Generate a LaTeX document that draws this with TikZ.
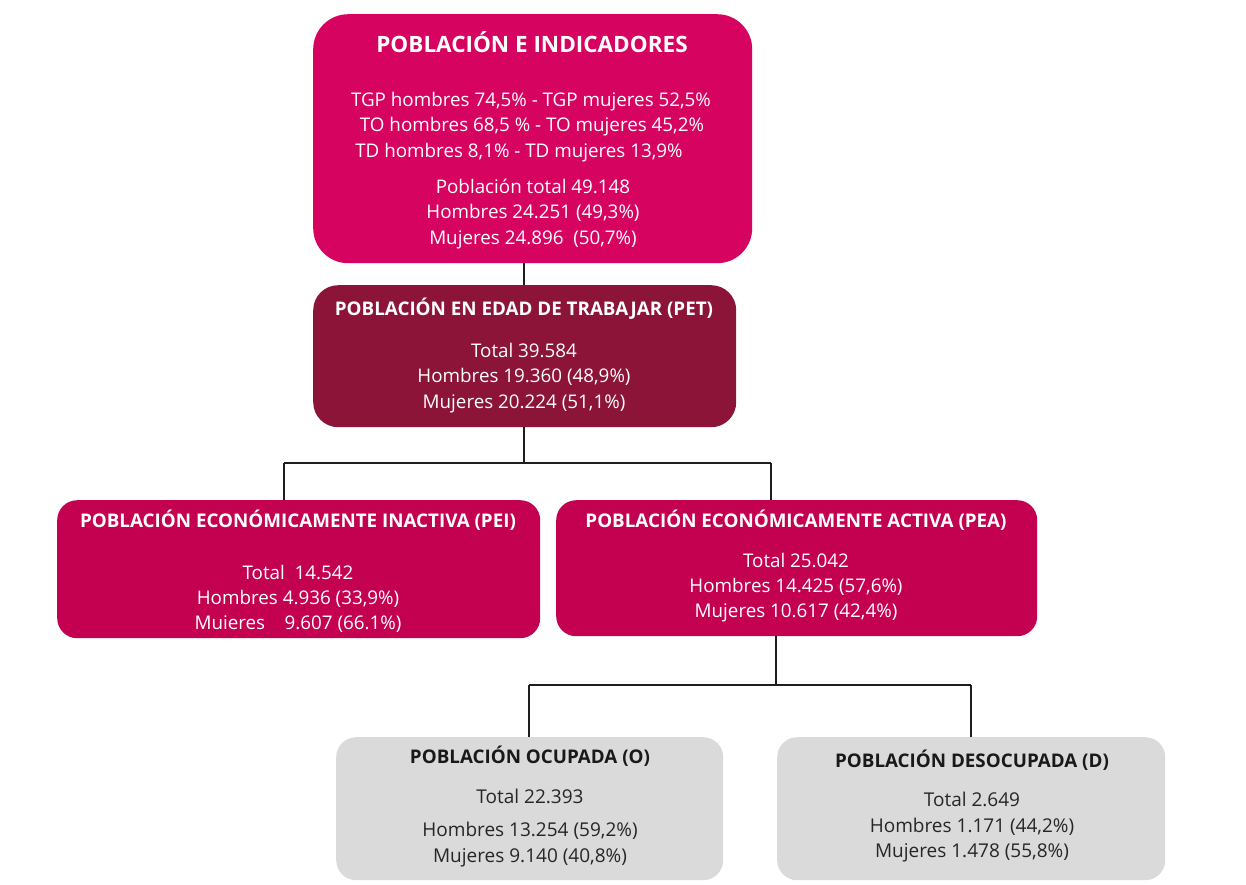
\documentclass[tikz,border=0pt]{standalone}
\usepackage{fontspec}
\setmainfont{Open Sans}
\definecolor{topc}{RGB}{214,4,96}
\definecolor{petc}{RGB}{141,20,57}
\definecolor{midc}{RGB}{196,0,80}
\definecolor{grayc}{RGB}{218,218,218}
\definecolor{linec}{RGB}{30,30,30}
\begin{document}
\begin{tikzpicture}[x=1pt,y=-1pt,
  box/.style={draw=none,rounded corners=#1,inner sep=0pt,anchor=north west},
  wt/.style={text=white,inner sep=0pt,anchor=base,font=\fontsize{18.8}{22}\selectfont},
  wtitle/.style={text=white,inner sep=0pt,anchor=base,font=\fontsize{18.8}{22}\selectfont\bfseries},
  dt/.style={text=black!85,inner sep=0pt,anchor=base,font=\fontsize{19}{22}\selectfont},
  dtitle/.style={text=black!90,inner sep=0pt,anchor=base,font=\fontsize{18.8}{22}\selectfont\bfseries},
  conn/.style={draw=linec,line width=1.6pt}]
\useasboundingbox (0,0) rectangle (1246,884);
% boxes
\node[box=35pt,fill=topc,minimum width=439pt,minimum height=249pt] (top) at (313,14) {};
\node[box=25pt,fill=petc,minimum width=423pt,minimum height=142pt] (pet) at (313,285) {};
\node[box=20pt,fill=midc,minimum width=483pt,minimum height=138pt] (pei) at (57,500) {};
\node[box=20pt,fill=midc,minimum width=481pt,minimum height=136pt] (pea) at (556,500) {};
\node[box=20pt,fill=grayc,minimum width=387pt,minimum height=143pt] (ocu) at (336,737) {};
\node[box=20pt,fill=grayc,minimum width=388pt,minimum height=143pt] (des) at (777,737) {};
% connectors
\coordinate (j1) at (524,463);
\coordinate (j2) at (776,685);
\draw[conn] (top.south -| j1) -- (pet.north -| j1);
\draw[conn] (pet.south -| j1) -- (j1);
\draw[conn] (284,463) -- (771,463);
\draw[conn] (284,463) -- (pei.north -| 284,0);
\draw[conn] (771,463) -- (pea.north -| 771,0);
\draw[conn] (pea.south -| j2) -- (j2);
\draw[conn] (529,685) -- (971,685);
\draw[conn] (529,685) -- (ocu.north -| 529,0);
\draw[conn] (971,685) -- (des.north -| 971,0);
% top texts
\node[wtitle,font=\fontsize{22.5}{26}\selectfont\bfseries] (t0) at (532,52) {POBLACIÓN E INDICADORES};
\node[wt] (t1) at (531,106) {TGP hombres 74,5\% - TGP mujeres 52,5\%};
\node[wt] (t2) at (532,131) {TO hombres 68,5 \% - TO mujeres 45,2\%};
\node[wt] (t3) at (519,157) {TD hombres 8,1\% - TD mujeres 13,9\%};
\node[wt] (t4) at (533,193) {Población total 49.148};
\node[wt] (t5) at (533,218) {Hombres 24.251 (49,3\%)};
\node[wt] (t6) at (533,244) {Mujeres 24.896~ (50,7\%)};
% PET
\node[wtitle] (p0) at (524,315) {POBLACIÓN EN EDAD DE TRABAJAR (PET)};
\node[wt] (p1) at (524,357) {Total 39.584};
\node[wt] (p2) at (524,382) {Hombres 19.360 (48,9\%)};
\node[wt] (p3) at (524,408) {Mujeres 20.224 (51,1\%)};
% PEI
\node[wtitle] (i0) at (298,527) {POBLACIÓN ECONÓMICAMENTE INACTIVA (PEI)};
\node[wt] (i1) at (298,579) {Total~ 14.542};
\node[wt] (i2) at (298,604) {Hombres 4.936 (33,9\%)};
\node[wt] (i3) at (298,629) {Muieres~~~ 9.607 (66.1\%)};
% PEA
\node[wtitle] (a0) at (796,527) {POBLACIÓN ECONÓMICAMENTE ACTIVA (PEA)};
\node[wt] (a1) at (796,567) {Total 25.042};
\node[wt] (a2) at (796,592) {Hombres 14.425 (57,6\%)};
\node[wt] (a3) at (796,617) {Mujeres 10.617 (42,4\%)};
% Ocupada
\node[dtitle] (o0) at (530,763) {POBLACIÓN OCUPADA (O)};
\node[dt] (o1) at (530,803) {Total 22.393};
\node[dt] (o2) at (530,836) {Hombres 13.254 (59,2\%)};
\node[dt] (o3) at (530,862) {Mujeres 9.140 (40,8\%)};
% Desocupada
\node[dtitle] (d0) at (972,767) {POBLACIÓN DESOCUPADA (D)};
\node[dt] (d1) at (972,806) {Total 2.649};
\node[dt] (d2) at (972,832) {Hombres 1.171 (44,2\%)};
\node[dt] (d3) at (972,857) {Mujeres 1.478 (55,8\%)};
\end{tikzpicture}
\end{document}
